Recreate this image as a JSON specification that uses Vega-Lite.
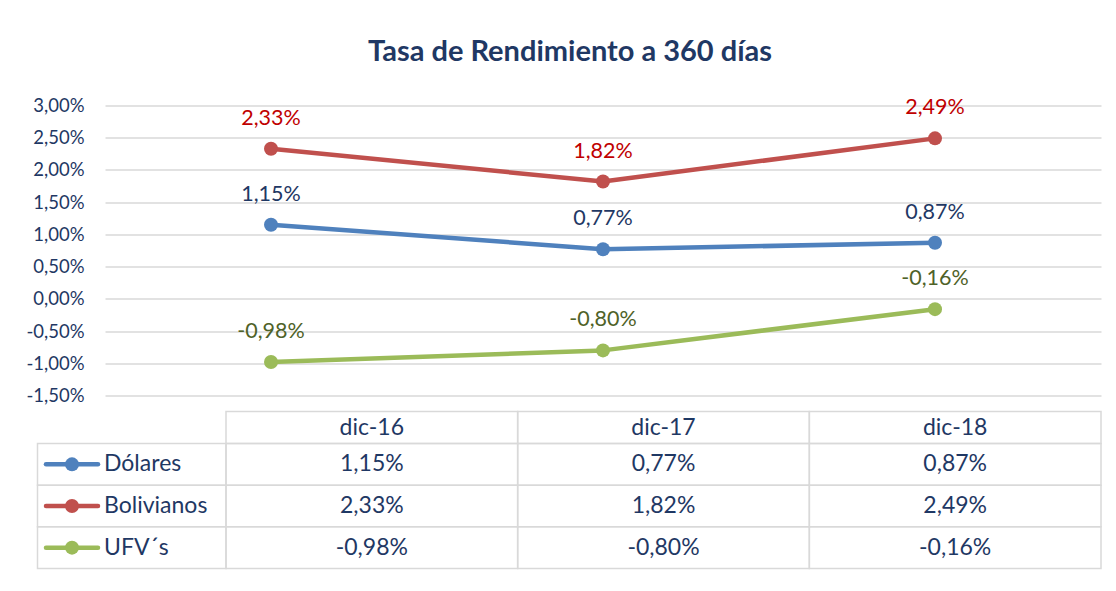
{
  "$schema": "https://vega.github.io/schema/vega-lite/v6.json",
  "width": 996,
  "height": 290,
  "autosize": {"type": "none"},
  "padding": {"left": 105, "top": 105.5, "right": 15, "bottom": 195.5},
  "background": "white",
  "title": {
    "text": "Tasa de Rendimiento a 360 días",
    "fontSize": 29,
    "fontWeight": "bold",
    "color": "#1f3864",
    "font": "Lato",
    "anchor": "middle",
    "frame": "group",
    "offset": 30,
    "dx": -33
  },
  "datasets": {
    "tasas": [
      {"periodo": "dic-16", "serie": "Dólares", "valor": 0.0115},
      {"periodo": "dic-17", "serie": "Dólares", "valor": 0.0077},
      {"periodo": "dic-18", "serie": "Dólares", "valor": 0.0087},
      {"periodo": "dic-16", "serie": "Bolivianos", "valor": 0.0233},
      {"periodo": "dic-17", "serie": "Bolivianos", "valor": 0.0182},
      {"periodo": "dic-18", "serie": "Bolivianos", "valor": 0.0249},
      {"periodo": "dic-16", "serie": "UFV´s", "valor": -0.0098},
      {"periodo": "dic-17", "serie": "UFV´s", "valor": -0.0080},
      {"periodo": "dic-18", "serie": "UFV´s", "valor": -0.0016}
    ],
    "periodos": [
      {"periodo": "dic-16"},
      {"periodo": "dic-17"},
      {"periodo": "dic-18"}
    ],
    "series": [
      {"serie": "Dólares"},
      {"serie": "Bolivianos"},
      {"serie": "UFV´s"}
    ]
  },
  "layer": [
    {
      "data": {"name": "tasas"},
      "encoding": {
        "x": {
          "field": "periodo",
          "type": "nominal",
          "sort": ["dic-16", "dic-17", "dic-18"],
          "scale": {"type": "point", "padding": 0.5},
          "axis": null
        },
        "y": {
          "field": "valor",
          "type": "quantitative",
          "scale": {"domain": [-0.015, 0.03], "nice": false, "zero": false},
          "axis": {
            "values": [-0.015, -0.01, -0.005, 0, 0.005, 0.01, 0.015, 0.02, 0.025, 0.03],
            "format": ".2%",
            "title": null,
            "domain": false,
            "ticks": false,
            "labelPadding": 21,
            "labelFontSize": 18.5,
            "labelColor": "#1f3864",
            "labelFont": "Lato",
            "gridColor": "#d9d9d9",
            "gridWidth": 1.5
          }
        }
      },
      "layer": [
        {
          "mark": {"type": "line", "strokeWidth": 4.5, "strokeJoin": "round"},
          "encoding": {
            "color": {
              "field": "serie",
              "type": "nominal",
              "scale": {"domain": ["Dólares", "Bolivianos", "UFV´s"], "range": ["#4f81bd", "#c0504d", "#9bbb59"]},
              "legend": null
            }
          }
        },
        {
          "mark": {"type": "point", "shape": "circle", "filled": true, "opacity": 1, "size": 196},
          "encoding": {
            "color": {"field": "serie", "type": "nominal", "legend": null}
          }
        },
        {
          "mark": {"type": "text", "dy": -24, "baseline": "alphabetic", "fontSize": 21.5, "font": "Lato"},
          "encoding": {
            "text": {"field": "valor", "type": "quantitative", "format": ".2%"},
            "fill": {
              "field": "serie",
              "type": "nominal",
              "scale": {"domain": ["Dólares", "Bolivianos", "UFV´s"], "range": ["#1f3864", "#c00000", "#4f6228"]},
              "legend": null
            }
          }
        }
      ]
    },
    {
      "data": {"name": "tasas"},
      "encoding": {
        "x": {
          "field": "periodo",
          "type": "nominal",
          "scale": {"type": "band", "domain": ["dic-16", "dic-17", "dic-18"], "range": [121, 996], "paddingInner": 0, "paddingOuter": 0},
          "axis": null
        },
        "y": {
          "field": "serie",
          "type": "nominal",
          "scale": {"type": "band", "domain": ["Dólares", "Bolivianos", "UFV´s"], "range": [338, 463], "paddingInner": 0, "paddingOuter": 0},
          "axis": null
        }
      },
      "layer": [
        {
          "mark": {"type": "rect", "fill": "transparent", "stroke": "#d9d9d9", "strokeWidth": 1.5}
        },
        {
          "mark": {"type": "text", "fontSize": 23, "font": "Lato", "color": "#1f3864", "baseline": "middle"},
          "encoding": {
            "text": {"field": "valor", "type": "quantitative", "format": ".2%"}
          }
        }
      ]
    },
    {
      "data": {"name": "periodos"},
      "encoding": {
        "x": {
          "field": "periodo",
          "type": "nominal",
          "scale": {"type": "band", "domain": ["dic-16", "dic-17", "dic-18"], "range": [121, 996], "paddingInner": 0, "paddingOuter": 0},
          "axis": null
        },
        "y": {
          "datum": "encabezado",
          "type": "nominal",
          "scale": {"type": "band", "domain": ["encabezado"], "range": [306, 338], "paddingInner": 0, "paddingOuter": 0},
          "axis": null
        }
      },
      "layer": [
        {
          "mark": {"type": "rect", "fill": "transparent", "stroke": "#d9d9d9", "strokeWidth": 1.5}
        },
        {
          "mark": {"type": "text", "fontSize": 23, "font": "Lato", "color": "#1f3864", "baseline": "middle"},
          "encoding": {
            "text": {"field": "periodo", "type": "nominal"}
          }
        }
      ]
    },
    {
      "data": {"name": "series"},
      "encoding": {
        "x": {
          "datum": "leyenda",
          "type": "nominal",
          "scale": {"type": "band", "domain": ["leyenda"], "range": [-67.5, 121], "paddingInner": 0, "paddingOuter": 0},
          "axis": null
        },
        "y": {
          "field": "serie",
          "type": "nominal",
          "scale": {"type": "band", "domain": ["Dólares", "Bolivianos", "UFV´s"], "range": [338, 463], "paddingInner": 0, "paddingOuter": 0},
          "axis": null
        }
      },
      "layer": [
        {
          "mark": {"type": "rect", "fill": "transparent", "stroke": "#d9d9d9", "strokeWidth": 1.5}
        },
        {
          "mark": {"type": "point", "shape": "stroke", "filled": false, "opacity": 1, "size": 2704, "strokeWidth": 4.5, "strokeCap": "round", "xOffset": -59.75},
          "encoding": {
            "color": {"field": "serie", "type": "nominal", "legend": null}
          }
        },
        {
          "mark": {"type": "point", "shape": "circle", "filled": true, "opacity": 1, "size": 196, "xOffset": -59.75},
          "encoding": {
            "color": {"field": "serie", "type": "nominal", "legend": null}
          }
        },
        {
          "mark": {"type": "text", "align": "left", "baseline": "middle", "dx": -27.75, "fontSize": 23, "font": "Lato", "color": "#1f3864"},
          "encoding": {
            "text": {"field": "serie", "type": "nominal"}
          }
        }
      ]
    }
  ],
  "resolve": {"scale": {"x": "independent", "y": "independent"}},
  "config": {
    "font": "Lato",
    "view": {"stroke": null},
    "locale": {
      "number": {"decimal": ",", "thousands": ".", "grouping": [3], "currency": ["", " €"], "minus": "-"}
    }
  }
}
